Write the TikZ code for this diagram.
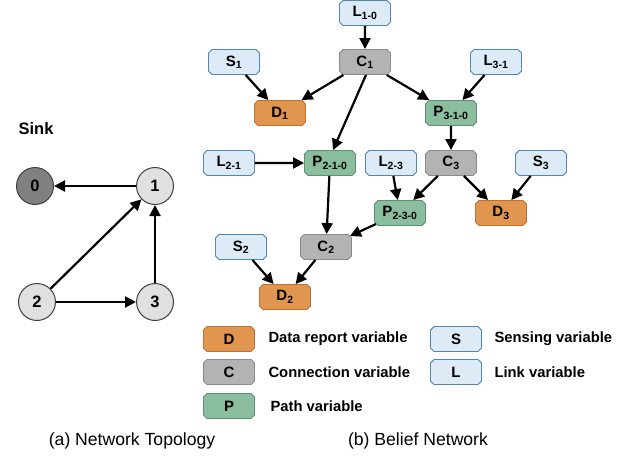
\documentclass[tikz,border=0pt]{standalone}
\usepackage{fontspec}
\setmainfont{Liberation Sans}
\usetikzlibrary{shapes.misc,arrows.meta}
\definecolor{dfill}{HTML}{E0964F}
\definecolor{ddraw}{HTML}{C07030}
\definecolor{cfill}{HTML}{B3B3B3}
\definecolor{cdraw}{HTML}{8A8A8A}
\definecolor{pfill}{HTML}{8BBD9F}
\definecolor{pdraw}{HTML}{5F8F74}
\definecolor{sfill}{HTML}{DCEBF6}
\definecolor{sdraw}{HTML}{4F87B0}
\tikzset{
  var/.style={chamfered rectangle, chamfered rectangle xsep=1.8pt, chamfered rectangle ysep=1.8pt,
    minimum width=51pt, minimum height=25pt, inner sep=0pt, line width=0.9pt,
    font=\fontsize{15}{17}\selectfont\bfseries},
  dvar/.style={var, fill=dfill, draw=ddraw},
  cvar/.style={var, fill=cfill, draw=cdraw},
  pvar/.style={var, fill=pfill, draw=pdraw},
  svar/.style={var, fill=sfill, draw=sdraw},
  arr/.style={-{Triangle[length=11pt,width=11pt]}, line width=2.2pt, black},
  netnode/.style={circle, minimum size=37pt, inner sep=0pt, draw=black!75, line width=1pt,
    font=\fontsize{16.5}{18}\selectfont\bfseries},
  legtext/.style={anchor=west, font=\fontsize{14.8}{16}\selectfont\bfseries},
  caption/.style={font=\fontsize{17.6}{19}\selectfont}
}
\begin{document}
\begin{tikzpicture}[x=1pt,y=-1pt]
\useasboundingbox (0,0) rectangle (629,459);
% network topology
\node[font=\fontsize{16.5}{18}\selectfont\bfseries] (sink) at (36,129) {Sink};
\node[netnode, fill=black!50] (n0) at (35,186) {0};
\node[netnode, fill=black!12] (n1) at (155,186) {1};
\node[netnode, fill=black!12] (n2) at (37,302) {2};
\node[netnode, fill=black!12] (n3) at (155,302) {3};
\draw[arr] (n1) -- (n0);
\draw[arr] (n2) -- (n1);
\draw[arr] (n3) -- (n1);
\draw[arr] (n2) -- (n3);
% belief network
\node[svar] (L10) at (365,13) {L\textsubscript{1-0}};
\node[cvar] (C1) at (365,62) {C\textsubscript{1}};
\node[svar] (S1) at (234,62) {S\textsubscript{1}};
\node[dvar] (D1) at (280,113) {D\textsubscript{1}};
\node[svar] (L31) at (496,62) {L\textsubscript{3-1}};
\node[pvar] (P310) at (451,113) {P\textsubscript{3-1-0}};
\node[cvar] (C3) at (451,163) {C\textsubscript{3}};
\node[svar] (S3) at (541,163) {S\textsubscript{3}};
\node[dvar] (D3) at (501,213) {D\textsubscript{3}};
\node[svar] (L21) at (229,163) {L\textsubscript{2-1}};
\node[pvar] (P210) at (330,163) {P\textsubscript{2-1-0}};
\node[svar] (L23) at (391,163) {L\textsubscript{2-3}};
\node[pvar] (P230) at (400,213) {P\textsubscript{2-3-0}};
\node[cvar] (C2) at (326,247) {C\textsubscript{2}};
\node[svar] (S2) at (241,247) {S\textsubscript{2}};
\node[dvar] (D2) at (285,297) {D\textsubscript{2}};
\draw[arr] (L10) -- (C1);
\draw[arr] (S1) -- (D1);
\draw[arr] (C1) -- (D1);
\draw[arr] ([xshift=1pt]C1.south) -- ([xshift=3pt]P210.north);
\draw[arr] (C1) -- (P310);
\draw[arr] (L31) -- (P310);
\draw[arr] (P310) -- (C3);
\draw[arr] (C3) -- (P230);
\draw[arr] (C3) -- (D3);
\draw[arr] (S3) -- (D3);
\draw[arr] (L21) -- (P210);
\draw[arr] (L23) -- (P230);
\draw[arr] (P210) -- (C2);
\draw[arr] (P230) -- (C2);
\draw[arr] (S2) -- (D2);
\draw[arr] (C2) -- (D2);
% legend
\node[dvar] (lD) at (229,339) {D};
\node[cvar] (lC) at (229,372) {C};
\node[pvar] (lP) at (229,406) {P};
\node[svar] (lS) at (456,339) {S};
\node[svar] (lL) at (456,372) {L};
\node[legtext] (tD) at (265,339) {Data report variable};
\node[legtext] (tC) at (265,372) {Connection variable};
\node[legtext] (tP) at (267,406) {Path variable};
\node[legtext] (tS) at (491,339) {Sensing variable};
\node[legtext] (tL) at (491,372) {Link variable};
% captions
\node[caption] (capa) at (132,441) {(a) Network Topology};
\node[caption] (capb) at (418,441) {(b) Belief Network};
\end{tikzpicture}
\end{document}
